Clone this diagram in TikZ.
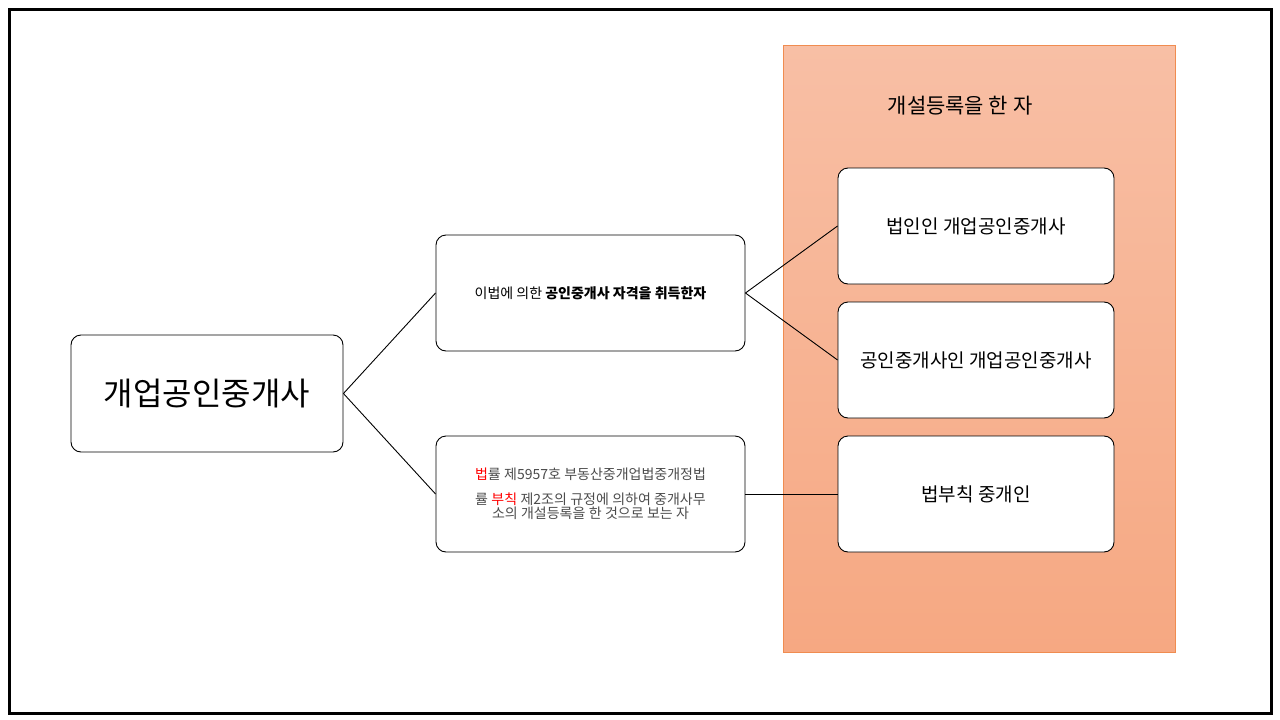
\documentclass[tikz,border=0pt]{standalone}
\usepackage{fontspec}
\setmainfont{Noto Sans CJK KR}
\definecolor{ptop}{RGB}{248,191,165}
\definecolor{pbot}{RGB}{246,168,130}
\definecolor{pedge}{RGB}{240,140,80}
\begin{document}
\begin{tikzpicture}[x=1pt,y=-1pt,
  box/.style={draw=black,fill=white,rounded corners=10pt,line width=0.9pt,align=center},
  lnk/.style={line width=0.9pt}]
\useasboundingbox (0,0) rectangle (1280,720);
\fill[white] (0,0) rectangle (1280,720);
\draw[line width=3pt] (9,9) rectangle (1271,713);
\shade[top color=ptop,bottom color=pbot] (783,45) rectangle (1175,652);
\draw[pedge,line width=0.6pt] (783,45) rectangle (1175,652);
\node (title) at (960,106) {\fontsize{21}{25}\selectfont 개설등록을 한 자};
\node[box,minimum width=272pt,minimum height=117pt] (A) at (207,393.5) {\fontsize{32}{38}\selectfont 개업공인중개사};
\node[box,minimum width=309pt,minimum height=116pt] (B) at (590.5,293) {\fontsize{14}{17}\selectfont 이법에 의한 \textbf{공인중개사 자격을 취득한자}};
\node[box,minimum width=309pt,minimum height=116pt,text width=295pt] (C) at (590.5,494) {\fontsize{14}{25}\selectfont\color[gray]{0.3}{\color{red}법}률 제5957호 부동산중개업법중개정법\\률 {\color{red}부칙} 제2조의 규정에 의하여 중개사무\\소의 개설등록을 한 것으로 보는 자};
\node[box,minimum width=276pt,minimum height=116pt] (D) at (976,226) {\fontsize{19}{23}\selectfont 법인인 개업공인중개사};
\node[box,minimum width=276pt,minimum height=116pt] (E) at (976,360) {\fontsize{19}{23}\selectfont 공인중개사인 개업공인중개사};
\node[box,minimum width=276pt,minimum height=116pt] (F) at (976,494) {\fontsize{19}{23}\selectfont 법부칙 중개인};
\draw[lnk] (A.east) -- (B.west);
\draw[lnk] (A.east) -- (C.west);
\draw[lnk] (B.east) -- (D.west);
\draw[lnk] (B.east) -- (E.west);
\draw[lnk] (C.east) -- (F.west);
\end{tikzpicture}
\end{document}
